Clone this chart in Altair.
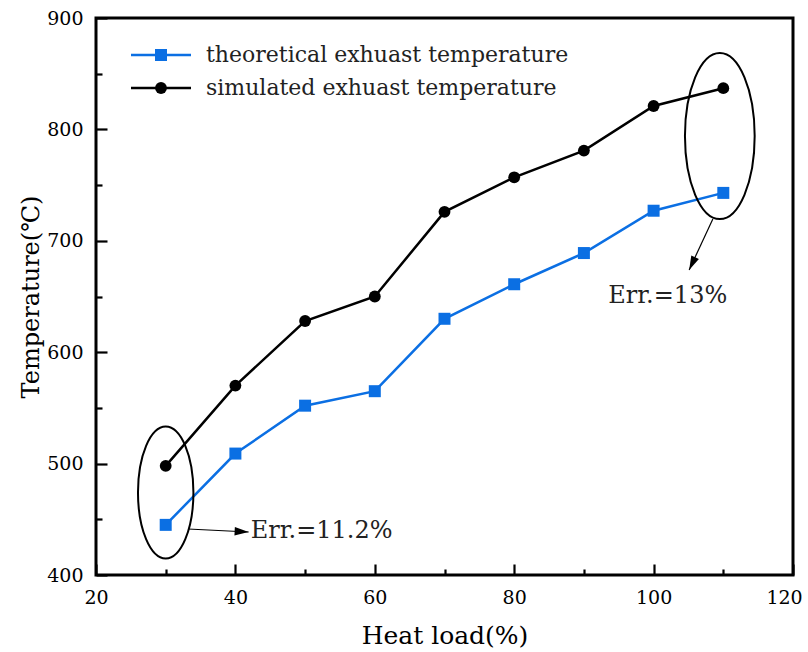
import altair as alt
import pandas as pd

# Heat load (%) and exhaust temperatures (°C)
heat_load = [30, 40, 50, 60, 70, 80, 90, 100, 110]
theoretical = [445, 509, 552, 565, 630, 661, 689, 727, 743]
simulated = [498, 570, 628, 650, 726, 757, 781, 821, 837]

series_theoretical = "theoretical exhuast temperature"
series_simulated = "simulated exhuast temperature"

x_major = [20, 40, 60, 80, 100, 120]
x_minor = [30, 50, 70, 90, 110]
y_major = [400, 500, 600, 700, 800, 900]
y_minor = [450, 550, 650, 750, 850]

# annotations: ellipse centres, arrow start/end and label anchors (data units)
ellipse_x = [30, 109.5]
ellipse_y = [474, 794]
ellipse_px = [132, 166]  # ellipse heights in px
arrow_x0 = [33.2, 108.5]
arrow_y0 = [441.3, 719.6]
arrow_x1 = [41.9, 105.1]
arrow_y1 = [438.6, 673.8]
arrow_angle = [92.9, 205.2]
err_text = ["Err.=11.2%", "Err.=13%"]
err_x = [42.2, 93.5]
err_y = [439.5, 650.4]

BLUE = "#0b6fe3"
BLACK = "#000000"
FONT = "DejaVu Serif"
W, H = 697, 557
X0, X1, Y0, Y1 = 20, 120, 400, 900

xs = alt.Scale(domain=[X0, X1], nice=False, zero=False)
ys = alt.Scale(domain=[Y0, Y1], nice=False, zero=False)

df = pd.DataFrame({"load": heat_load, "theo": theoretical, "sim": simulated})

x_axis = alt.Axis(orient="bottom", values=x_major, ticks=False, domain=False, grid=False,
                  labelFlush=False, labelFont=FONT, labelFontSize=19, labelColor="black",
                  labelOffset=alt.ExprRef(expr="datum.value == 120 ? -9 : 0"),
                  labelPadding=13, title="Heat load(%)", titleFont=FONT,
                  titleFontSize=25, titleFontWeight="normal", titleColor="black",
                  titlePadding=16)
y_axis = alt.Axis(orient="left", values=y_major, ticks=False, domain=False, grid=False,
                  labelFlush=False, labelFont=FONT, labelFontSize=19, labelColor="black",
                  labelPadding=13, title="Temperature(℃)", titleFont=FONT,
                  titleFontSize=24, titleFontWeight="normal", titleColor="black",
                  titlePadding=3)

base = alt.Chart(df)

theo_line = base.mark_line(color=BLUE, strokeWidth=2.5).encode(
    x=alt.X("load:Q", scale=xs, axis=x_axis),
    y=alt.Y("theo:Q", scale=ys, axis=y_axis),
)
theo_pts = base.mark_point(shape="square", filled=True, size=144, color=BLUE, opacity=1).encode(
    x=alt.X("load:Q", scale=xs), y=alt.Y("theo:Q", scale=ys)
)
sim_line = base.mark_line(color=BLACK, strokeWidth=2.5).encode(
    x=alt.X("load:Q", scale=xs), y=alt.Y("sim:Q", scale=ys)
)
sim_pts = base.mark_circle(size=140, color=BLACK, opacity=1).encode(
    x=alt.X("load:Q", scale=xs), y=alt.Y("sim:Q", scale=ys)
)

# ellipses around the compared points
ell_df = pd.DataFrame({"x": ellipse_x, "y": ellipse_y,
                       "s": [p * p for p in ellipse_px]})
ELLIPSE = "M -0.42 0 A 0.42 1 0 1 0 0.42 0 A 0.42 1 0 1 0 -0.42 0 Z"
ellipses = alt.Chart(ell_df).mark_point(shape=ELLIPSE, filled=False, color="black",
                                        strokeWidth=2, opacity=1).encode(
    x=alt.X("x:Q", scale=xs), y=alt.Y("y:Q", scale=ys), size=alt.Size("s:Q", scale=None)
)

arr_df = pd.DataFrame({"x0": arrow_x0, "y0": arrow_y0, "x1": arrow_x1, "y1": arrow_y1,
                       "a": arrow_angle})
arrow_lines = alt.Chart(arr_df).mark_rule(color="black", strokeWidth=1.2).encode(
    x=alt.X("x0:Q", scale=xs), y=alt.Y("y0:Q", scale=ys),
    x2="x1:Q", y2="y1:Q"
)
ARROWHEAD = "M 0 0 L 0.3 1 L -0.3 1 Z"
arrow_heads = alt.Chart(arr_df).mark_point(shape=ARROWHEAD, filled=True, color="black",
                                           size=784, opacity=1).encode(
    x=alt.X("x1:Q", scale=xs), y=alt.Y("y1:Q", scale=ys),
    angle=alt.Angle("a:Q", scale=None)
)

err_df = pd.DataFrame({"x": err_x, "y": err_y, "t": err_text})
err_labels = alt.Chart(err_df).mark_text(font=FONT, fontSize=24, align="left",
                                         baseline="middle", color="#222222").encode(
    x=alt.X("x:Q", scale=xs), y=alt.Y("y:Q", scale=ys), text="t:N"
)

# legend
def legend_row(label, color, shape, ypx):
    d = alt.Chart(pd.DataFrame({"label": [label]}))
    seg = d.mark_rule(color=color, strokeWidth=2.5).encode(
        x=alt.value(35), x2=alt.value(95), y=alt.value(ypx))
    if shape == "square":
        mk = d.mark_point(shape="square", filled=True, size=144, color=color, opacity=1)
    else:
        mk = d.mark_circle(size=140, color=color, opacity=1)
    mk = mk.encode(x=alt.value(65), y=alt.value(ypx))
    txt = d.mark_text(font=FONT, fontSize=22, align="left", baseline="middle",
                      color="#222222").encode(x=alt.value(110), y=alt.value(ypx), text="label:N")
    return [seg, mk, txt]

legend = legend_row(series_theoretical, BLUE, "square", 37) + legend_row(series_simulated, BLACK, "circle", 70)

content = alt.layer(
    theo_line, sim_line, ellipses, arrow_lines, arrow_heads,
    theo_pts, sim_pts, err_labels, *legend
)

# inward ticks: extra axes pulled onto the bottom/left frame, ticks facing into the plot
def tick_axes(xvals, yvals, length):
    ax = alt.Axis(orient="top", offset=-H, values=xvals, labels=False, domain=False,
                  grid=False, title=None, ticks=True, tickSize=length, tickWidth=2.2,
                  tickColor="black")
    ay = alt.Axis(orient="right", offset=-W, values=yvals, labels=False, domain=False,
                  grid=False, title=None, ticks=True, tickSize=length, tickWidth=2.2,
                  tickColor="black")
    return base.mark_point(opacity=0).encode(
        x=alt.X("load:Q", scale=xs, axis=ax), y=alt.Y("theo:Q", scale=ys, axis=ay)
    )

chart = alt.layer(
    content, tick_axes(x_major, y_major, 11), tick_axes(x_minor, y_minor, 6)
).resolve_axis(x="independent", y="independent").properties(
    width=W, height=H,
    autosize=alt.AutoSizeParams(type="none"),
    padding={"left": 96, "top": 18, "right": 15, "bottom": 77},
    background="white",
).configure_view(stroke="black", strokeWidth=3)

chart.save("out.html", embed_options={"renderer": "svg", "actions": False})
